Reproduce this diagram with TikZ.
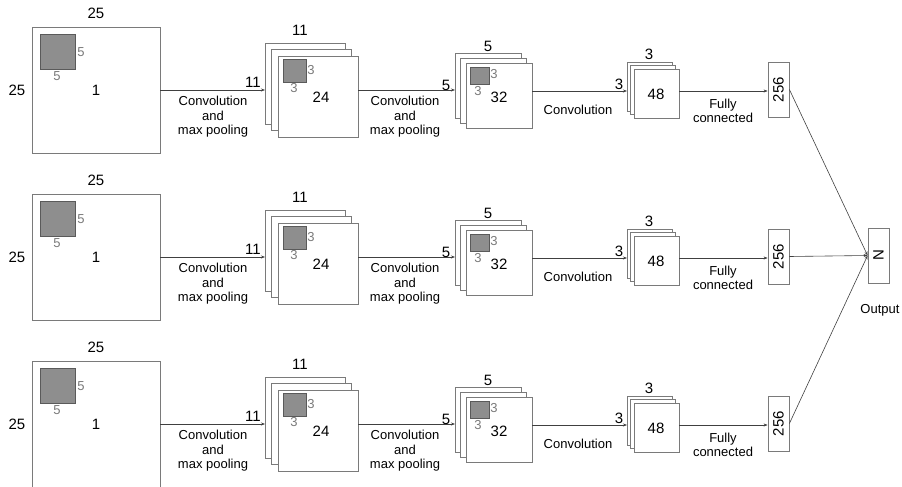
\documentclass[tikz,border=0pt]{standalone}
\usepackage{fontspec}
\setmainfont{Liberation Sans}
\usetikzlibrary{arrows.meta}
\definecolor{boxline}{HTML}{7A7A7A}
\definecolor{kfill}{HTML}{8E8E8E}
\definecolor{kline}{HTML}{5A5A5A}
\definecolor{glab}{HTML}{7A7A7A}
\tikzset{
  fmap/.style={draw=boxline, fill=white, line width=0.8pt, inner sep=0pt, outer sep=0pt},
  kern/.style={draw=kline, fill=kfill, line width=0.8pt, inner sep=0pt, outer sep=0pt},
  big/.style={font=\fontsize{15}{17}\selectfont, inner sep=0pt},
  glabel/.style={text=glab, font=\fontsize{13}{15}\selectfont, inner sep=0pt},
  oplabel/.style={font=\fontsize{13}{14.4}\selectfont, align=center, inner sep=0pt},
  conn/.style={draw=black!75, line width=0.6pt, -{Stealth[length=4pt,width=3pt]}},
  fcbox/.style={draw=boxline, fill=white, line width=0.8pt, minimum width=21pt, minimum height=55pt, inner sep=0pt},
}
\begin{document}
\begin{tikzpicture}[x=1pt,y=-1pt]
\useasboundingbox (0,0) rectangle (902,487);
\foreach \r/\dy in {1/0,2/167,3/334}{
\begin{scope}[yshift=-\dy pt]
  % input
  \node[fmap, minimum width=128pt, minimum height=126pt] (in\r) at (96,90) {};
  \node[kern, minimum width=35pt, minimum height=35pt] (k0\r) at (57.5,51.5) {};
  \node[big] (t0\r) at (96,13) {25};
  \node[big] (l0\r) at (17,90) {25};
  \node[glabel] (kr0\r) at (81,52) {5};
  \node[glabel] (kb0\r) at (57,76) {5};
  \node[big] (d0\r) at (96,90) {1};
  % stack A
  \node[fmap, minimum width=80pt, minimum height=81pt] (bA\r) at (305,83.5) {};
  \node[fmap, minimum width=80pt, minimum height=81pt] (mA\r) at (311.5,90) {};
  \node[fmap, minimum width=80pt, minimum height=81pt] (fA\r) at (318,96.5) {};
  \node[kern, minimum width=23pt, minimum height=23pt] (kA\r) at (294.5,70.5) {};
  \node[glabel] (krA\r) at (311,70) {3};
  \node[glabel] (kbA\r) at (294,88) {3};
  \node[big] (dA\r) at (321,97) {24};
  \node[big] (tA\r) at (300,30) {11};
  \node[big] (lA\r) at (253,82) {11};
  % stack B
  \node[fmap, minimum width=66pt, minimum height=65pt] (bB\r) at (488,85.5) {};
  \node[fmap, minimum width=66pt, minimum height=65pt] (mB\r) at (493.5,90.5) {};
  \node[fmap, minimum width=66pt, minimum height=65pt] (fB\r) at (499,95.5) {};
  \node[kern, minimum width=19pt, minimum height=17pt] (kB\r) at (479.5,75.5) {};
  \node[glabel] (krB\r) at (494,74) {3};
  \node[glabel] (kbB\r) at (478,91) {3};
  \node[big] (dB\r) at (499,97) {32};
  \node[big] (tB\r) at (488,46) {5};
  \node[big] (lB\r) at (446,85) {5};
  % stack C
  \node[fmap, minimum width=45pt, minimum height=49pt] (bC\r) at (649.5,86.5) {};
  \node[fmap, minimum width=45pt, minimum height=49pt] (mC\r) at (653,90) {};
  \node[fmap, minimum width=45pt, minimum height=49pt] (fC\r) at (656.5,93.5) {};
  \node[big] (dC\r) at (656,94) {48};
  \node[big] (tC\r) at (649,54) {3};
  \node[big] (lC\r) at (619,84) {3};
  % fully connected
  \node[fcbox] (fc\r) at (778.5,89.5) {};
  \node[big, rotate=90] (fct\r) at (778.5,89.5) {256};
  % connectors
  \draw[conn] (in\r.east |- 0,90) -- (bA\r.west |- 0,90);
  \draw[conn] (fA\r.east |- 0,90) -- (bB\r.west |- 0,90);
  \draw[conn] (fB\r.east |- 0,91) -- (bC\r.west |- 0,91);
  \draw[conn] (fC\r.east |- 0,91) -- (fc\r.west |- 0,91);
  % operation labels
  \node[oplabel] (o1\r) at (213,117) {Convolution\\and\\max pooling};
  \node[oplabel] (o2\r) at (405,117) {Convolution\\and\\max pooling};
  \node[oplabel] (o3\r) at (578,110) {Convolution};
  \node[oplabel] (o4\r) at (723,111) {Fully\\connected};
\end{scope}
}
\node[fcbox] (out) at (878.5,255.5) {};
\node[big, rotate=90] (outt) at (878.5,255.5) {N};
\node[oplabel] (outl) at (880,310) {Output};
\foreach \r in {1,2,3}{
  \draw[conn] (fc\r.east) -- (out.west);
}
\end{tikzpicture}
\end{document}
